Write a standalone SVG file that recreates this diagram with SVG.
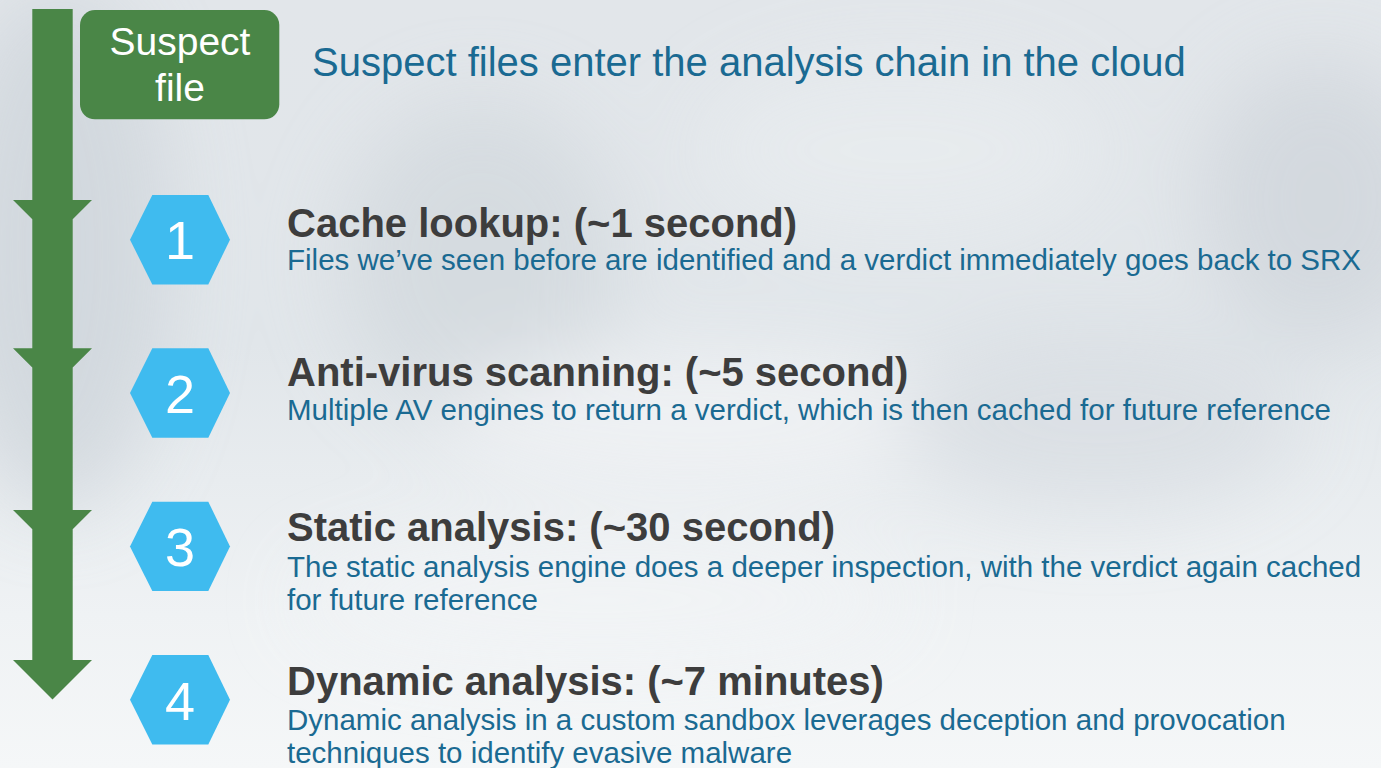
<svg xmlns="http://www.w3.org/2000/svg" width="1381" height="768" viewBox="0 0 1381 768">
  <defs>
    <linearGradient id="bg" x1="0" y1="0" x2="0" y2="1">
      <stop offset="0" stop-color="#e2e6ea"/>
      <stop offset="0.45" stop-color="#e1e6ea"/>
      <stop offset="0.8" stop-color="#eff2f4"/>
      <stop offset="1" stop-color="#f5f7f8"/>
    </linearGradient>
    <filter id="blur" x="-50%" y="-50%" width="200%" height="200%">
      <feGaussianBlur stdDeviation="40"/>
    </filter>
    <style>
      .hex { fill: #3fbbef; }
      .num { font-family: "Liberation Sans", Arial, sans-serif; font-size: 54px; fill: #ffffff; text-anchor: middle; }
      .head { font-family: "Liberation Sans", Arial, sans-serif; font-size: 40px; font-weight: bold; fill: #3d3d3d; }
      .desc { font-family: "Liberation Sans", Arial, sans-serif; font-size: 29.5px; fill: #1a6a92; }
      .title { font-family: "Liberation Sans", Arial, sans-serif; font-size: 40px; fill: #1a6a92; }
      .box { fill: #4a8647; }
      .boxtxt { font-family: "Liberation Sans", Arial, sans-serif; font-size: 39px; fill: #ffffff; text-anchor: middle; }
    </style>
  </defs>

  <!-- background -->
  <rect x="0" y="0" width="1381" height="768" fill="url(#bg)"/>
  <g filter="url(#blur)" opacity="0.8">
    <ellipse cx="60" cy="250" rx="110" ry="260" fill="#cfd5db"/>
    <ellipse cx="480" cy="260" rx="140" ry="160" fill="#d3d9de"/>
    <ellipse cx="1320" cy="200" rx="120" ry="140" fill="#d0d6dc"/>
    <ellipse cx="900" cy="150" rx="200" ry="90" fill="#e8ecef"/>
    <ellipse cx="700" cy="420" rx="260" ry="70" fill="#f1f3f5"/>
    <ellipse cx="1100" cy="420" rx="200" ry="90" fill="#d9dee3"/>
    <ellipse cx="600" cy="600" rx="300" ry="60" fill="#f2f4f6"/>
  </g>

  <!-- connectors: flow arrow -->
  <g id="connectors">
    <path class="box" d="M32.3,9 H72.7 V200 H92 L72.7,219.3 V348.3 H92 L72.7,367.6 V510 H92 L72.7,529.3 V660 H92 L52.5,699.5 L13,660 H32.3 V529.3 L13,510 H32.3 V367.6 L13,348.3 H32.3 V219.3 L13,200 H32.3 Z"/>
  </g>

  <!-- Suspect file node -->
  <g id="node-suspect">
    <rect class="box" x="80" y="10" width="199.3" height="109.3" rx="15"/>
    <text class="boxtxt" x="180" y="55">Suspect</text>
    <text class="boxtxt" x="180" y="101">file</text>
  </g>
  <g id="title">
    <text class="title" x="312" y="76">Suspect files enter the analysis chain in the cloud</text>
  </g>

  <!-- Step 1 -->
  <g id="step-1">
    <polygon class="hex" points="130,239.7 152.3,195 208.3,195 230,239.7 208.3,284.4 152.3,284.4"/>
    <text class="num" x="180" y="259">1</text>
    <text class="head" x="287" y="237">Cache lookup: (~1 second)</text>
    <text class="desc" x="287" y="270">Files we’ve seen before are identified and a verdict immediately goes back to SRX</text>
  </g>

  <!-- Step 2 -->
  <g id="step-2">
    <polygon class="hex" points="130,393 152.3,348.3 208.3,348.3 230,393 208.3,437.7 152.3,437.7"/>
    <text class="num" x="180" y="412.5">2</text>
    <text class="head" x="287" y="386">Anti-virus scanning: (~5 second)</text>
    <text class="desc" x="287" y="420">Multiple AV engines to return a verdict, which is then cached for future reference</text>
  </g>

  <!-- Step 3 -->
  <g id="step-3">
    <polygon class="hex" points="130,546.4 152.3,501.7 208.3,501.7 230,546.4 208.3,591.1 152.3,591.1"/>
    <text class="num" x="180" y="566">3</text>
    <text class="head" x="287" y="541">Static analysis: (~30 second)</text>
    <text class="desc" x="287" y="577">The static analysis engine does a deeper inspection, with the verdict again cached</text>
    <text class="desc" x="287" y="610">for future reference</text>
  </g>

  <!-- Step 4 -->
  <g id="step-4">
    <polygon class="hex" points="130,699.7 152.3,655 208.3,655 230,699.7 208.3,744.4 152.3,744.4"/>
    <text class="num" x="180" y="719.5">4</text>
    <text class="head" x="287" y="695">Dynamic analysis: (~7 minutes)</text>
    <text class="desc" x="287" y="729.5">Dynamic analysis in a custom sandbox leverages deception and provocation</text>
    <text class="desc" x="287" y="762.5">techniques to identify evasive malware</text>
  </g>
</svg>
